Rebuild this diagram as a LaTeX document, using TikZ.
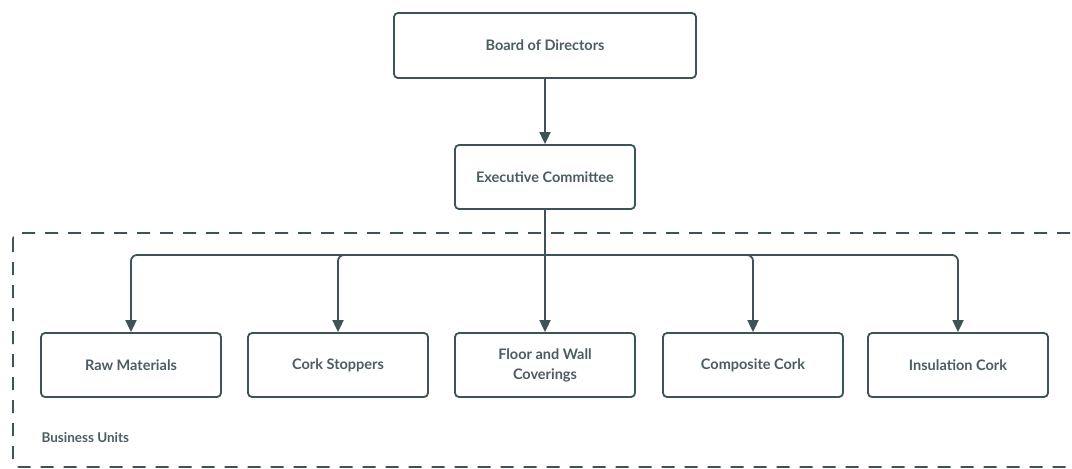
\documentclass[tikz,border=0pt]{standalone}
\usepackage{fontspec}
\setmainfont{Lato}
\usetikzlibrary{arrows.meta}
\definecolor{slate}{HTML}{3E5358}
\definecolor{inkgray}{HTML}{4B5D62}
\tikzset{
  unit/.style={draw=slate, line width=1.8pt, rounded corners=4pt, fill=white,
    minimum width=180pt, minimum height=64pt, align=center,
    text=inkgray, font=\bfseries\fontsize{14.5}{20}\selectfont},
  link/.style={draw=slate, line width=1.8pt, -{Triangle[width=11pt,length=12pt]}},
}
\begin{document}
\begin{tikzpicture}[x=1pt,y=-1pt]
  \useasboundingbox (0,0) rectangle (1072,469);
  \clip (0,0) rectangle (1072,469);
  % business units frame
  \draw[slate, line width=1.6pt, dash pattern=on 13pt off 10pt, rounded corners=6pt]
    (13,233) rectangle (1085,467);
  \node[anchor=west, text=inkgray, font=\bfseries\fontsize{13.5}{16}\selectfont] (bu) at (38,438) {Business Units};

  % top levels
  \node[unit, minimum width=302pt, minimum height=65pt] (board) at (545,45.5) {Board of Directors};
  \node[unit] (exec) at (545,177) {Executive Committee};

  % business units
  \node[unit] (raw)  at (131,365) {Raw Materials};
  \node[unit] (cork) at (338,365) {Cork Stoppers};
  \node[unit] (floor) at (545,365) {Floor and Wall\\Coverings};
  \node[unit] (comp) at (753,365) {Composite Cork};
  \node[unit] (ins)  at (958,365) {Insulation Cork};

  \coordinate (bus) at (545,255);
  \draw[link] (board) -- (exec);
  \draw[link] (exec) -- (floor);
  \foreach \u in {raw,cork,comp,ins}
    \draw[link, rounded corners=6pt] (bus) -| (\u.north);
\end{tikzpicture}
\end{document}
